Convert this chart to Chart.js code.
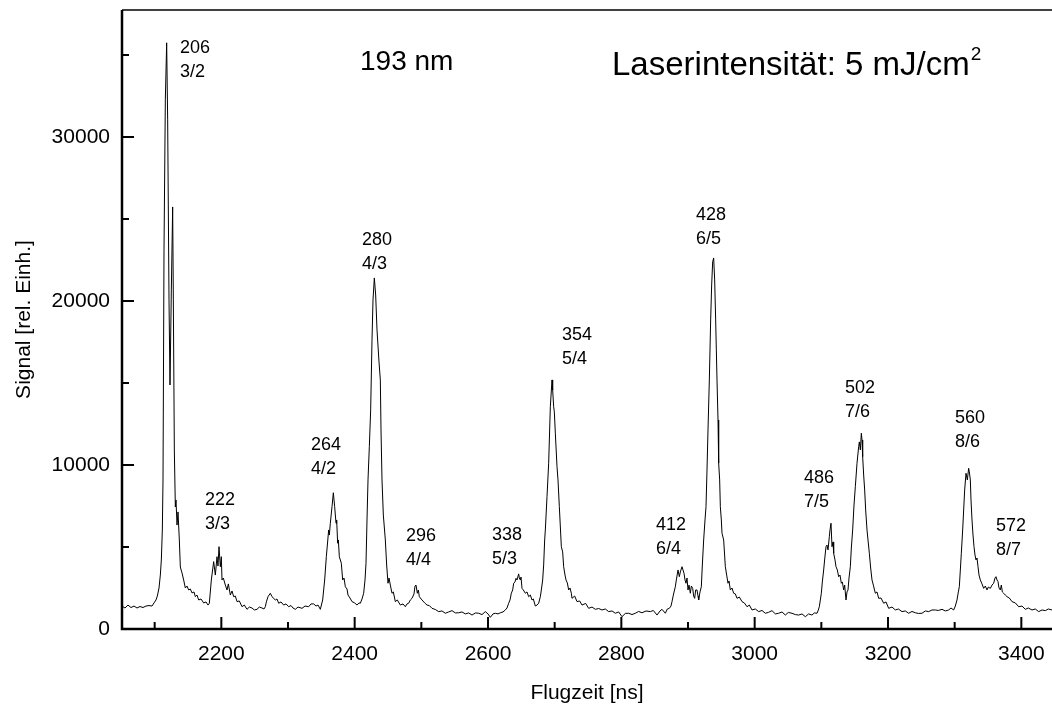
<!DOCTYPE html>
<html lang="de">
<head>
<meta charset="UTF-8">
<title>Flugzeitspektrum 193 nm</title>
<script src="https://cdn.jsdelivr.net/npm/chart.js"></script>
<style>
  html, body { margin: 0; padding: 0; background: #fff; }
</style>
</head>
<body>
<canvas id="tof" width="1052" height="709"></canvas>
<script>
// Flugzeit [ns] und Signal (je 10 Werte pro Zeile)
const flugzeit = [
  2051, 2055.5, 2060, 2064.5, 2069, 2073.5, 2078, 2082.5, 2087, 2091.5,
  2096, 2099, 2102, 2104, 2106.5, 2108.5, 2110, 2111.5, 2112.5, 2114,
  2116, 2118, 2119.5, 2121.5, 2123, 2125, 2127, 2128, 2129.5, 2131,
  2132, 2133.5, 2135, 2137, 2138.5, 2141, 2143.5, 2146, 2148.5, 2151,
  2153.5, 2156, 2159, 2161, 2163.5, 2166, 2169.5, 2173.5, 2177, 2180,
  2182, 2185, 2188.5, 2191, 2193.5, 2195, 2196.5, 2198.5, 2200, 2201,
  2203, 2206, 2208.5, 2210.5, 2213.5, 2216, 2218.5, 2221, 2223.5, 2227,
  2231, 2234.5, 2238.5, 2242, 2246, 2249.5, 2253.5, 2257, 2261, 2264,
  2266, 2267.5, 2270, 2273.5, 2276, 2281, 2283.5, 2286, 2289.5, 2293.5,
  2297, 2301, 2304.5, 2307.5, 2311, 2315, 2321, 2325.5, 2331, 2334.5,
  2338.5, 2342, 2345, 2348.5, 2352, 2355, 2357.5, 2361, 2362, 2363.5,
  2366, 2368, 2370, 2372, 2373, 2374.5, 2375.5, 2377, 2380, 2382,
  2384, 2386, 2388.5, 2390, 2393, 2396, 2400, 2403.5, 2406.5, 2408.5,
  2411, 2413.5, 2415.5, 2417, 2418.5, 2420, 2422, 2424, 2426, 2427.5,
  2429.5, 2431.5, 2433.5, 2436.5, 2438.5, 2439.5, 2441, 2443, 2446, 2448,
  2450, 2451.5, 2453.5, 2456, 2458, 2461, 2464, 2468.5, 2472.5, 2476,
  2478.5, 2481, 2483.5, 2486, 2489, 2490.5, 2492, 2494, 2495.5, 2497,
  2501, 2505, 2508.5, 2512, 2516, 2521, 2526, 2531, 2536, 2541,
  2546, 2551, 2556, 2561, 2566, 2571, 2576, 2581, 2586, 2591,
  2596, 2600, 2603.5, 2607.5, 2611, 2615, 2618.5, 2622.5, 2626, 2628.5,
  2631, 2633, 2635, 2637, 2638.5, 2640.5, 2642, 2643.5, 2646, 2647,
  2648.5, 2649.5, 2651, 2653, 2656, 2658.5, 2661, 2663.5, 2666, 2668,
  2671, 2673.5, 2676, 2678.5, 2680, 2682, 2683.5, 2685, 2686, 2688.5,
  2691, 2693.5, 2696, 2697, 2698.5, 2699.5, 2701, 2703.5, 2705, 2707,
  2710, 2712, 2713.5, 2715.5, 2717, 2719, 2721, 2723, 2725, 2726,
  2730, 2733.5, 2737.5, 2741, 2746.5, 2751, 2756, 2761, 2766, 2771,
  2776, 2781, 2786, 2791, 2796, 2801, 2806, 2811, 2816, 2821,
  2826, 2831, 2837, 2843.5, 2848, 2853.5, 2858, 2861, 2866, 2869,
  2872, 2874.5, 2876, 2878, 2881, 2882.5, 2885, 2887, 2888.5, 2891,
  2892.5, 2894, 2895.5, 2897, 2898.5, 2900, 2901.5, 2903.5, 2905, 2907,
  2908.5, 2910, 2911.5, 2913.5, 2915, 2916, 2918, 2920, 2921.5, 2923.5,
  2925.5, 2927, 2928.5, 2930, 2932, 2934, 2935.5, 2937, 2938.5, 2940,
  2941.5, 2942.5, 2943.5, 2945, 2946, 2947.5, 2948.5, 2950, 2951, 2953.5,
  2956, 2958, 2960, 2961.5, 2963.5, 2966, 2968.5, 2971, 2973.5, 2977,
  2981, 2984.5, 2988.5, 2992, 2996, 3001, 3006, 3011, 3016, 3020.5,
  3026, 3031, 3036, 3041, 3046, 3050.5, 3056, 3061, 3066, 3071,
  3076, 3081, 3086, 3089.5, 3093.5, 3095.5, 3097, 3098.5, 3100, 3101.5,
  3103.5, 3105.5, 3107, 3108.5, 3110, 3112, 3113, 3114.5, 3116, 3117.5,
  3118.5, 3120.5, 3122, 3124, 3126, 3128, 3130, 3131.5, 3133.5, 3135,
  3137, 3138.5, 3140, 3141.5, 3143.5, 3145, 3147, 3149, 3151, 3153.5,
  3156, 3157, 3158.5, 3160, 3161, 3162, 3163.5, 3165, 3166.5, 3168.5,
  3170, 3172, 3174, 3176, 3178, 3181, 3183.5, 3186, 3189.5, 3193.5,
  3197, 3201, 3206, 3211, 3215.5, 3221, 3226, 3231, 3236, 3241,
  3245.5, 3251, 3256, 3261, 3266, 3271, 3275.5, 3281, 3286, 3291,
  3294.5, 3298.5, 3301, 3303.5, 3305.5, 3307, 3308.5, 3310, 3312, 3313.5,
  3315, 3317, 3319, 3321, 3322, 3323.5, 3324.5, 3326, 3327.5, 3329,
  3330.5, 3332, 3333.5, 3335, 3336.5, 3338.5, 3341, 3343.5, 3346, 3348.5,
  3350.5, 3353.5, 3356, 3358.5, 3360.5, 3362, 3363.5, 3365, 3366.5, 3368.5,
  3370, 3371.5, 3373.5, 3376, 3378.5, 3382, 3386, 3391, 3396, 3401,
  3406, 3410.5, 3416, 3421, 3426, 3431, 3436, 3440.5, 3446
];
const signal = [
  1400, 1280, 1460, 1310, 1400, 1280, 1370, 1310, 1400, 1430,
  1400, 1590, 1770, 2010, 2500, 3290, 4210, 6040, 9090, 23120,
  32270, 35750, 31050, 20070, 14880, 20680, 25740, 20070, 10920, 7440,
  7870, 6340, 7140, 5430, 3780, 3420, 2990, 2500, 2620, 2380,
  2440, 2200, 2260, 1970, 2070, 1770, 1830, 1590, 1650, 1460,
  1570, 2990, 4110, 3290, 4410, 3840, 5020, 3800, 4410, 2990,
  3110, 2680, 2380, 2750, 2070, 2320, 1970, 2010, 1670, 1710,
  1360, 1460, 1200, 1340, 1280, 1160, 1200, 1340, 1280, 1220,
  1360, 1650, 1970, 2180, 1970, 1770, 1830, 1570, 1650, 1460,
  1530, 1360, 1430, 1280, 1200, 1340, 1260, 1400, 1360, 1530,
  1530, 1400, 1460, 1200, 1770, 2990, 4410, 6040, 5730, 6450,
  7460, 8310, 7460, 6450, 6650, 5230, 5430, 4410, 4010, 2990,
  3110, 2580, 2440, 2070, 1890, 1670, 1590, 1460, 1590, 1570,
  1830, 2180, 2990, 4010, 6650, 9090, 11120, 13360, 17630, 20070,
  21410, 20370, 18240, 16290, 15190, 12140, 9090, 6950, 5430, 3900,
  2790, 3110, 2680, 2180, 2260, 1670, 1770, 1460, 1530, 1360,
  1530, 1570, 1770, 1870, 2140, 2620, 2680, 2180, 2380, 1970,
  1770, 1590, 1460, 1430, 1260, 1190, 1060, 1100, 960, 1040,
  1120, 980, 990, 1040, 920, 980, 850, 980, 960, 880,
  1060, 920, 710, 920, 960, 920, 990, 1040, 1160, 1280,
  1570, 1770, 2180, 2380, 2790, 2870, 3090, 2990, 3360, 3110,
  2990, 3170, 2480, 2380, 2180, 2260, 1970, 2070, 1770, 1830,
  1400, 1460, 1570, 1970, 2380, 2990, 3900, 5430, 6040, 8070,
  10110, 13560, 15190, 14580, 13560, 13240, 11940, 9900, 9090, 7460,
  5020, 4700, 3800, 3290, 2990, 2810, 2380, 2500, 2180, 1870,
  2010, 1670, 1710, 1460, 1560, 1260, 1340, 1200, 1250, 1160,
  1220, 1060, 1100, 960, 1040, 750, 950, 960, 880, 960,
  1070, 990, 1100, 1060, 1130, 850, 1100, 1200, 960, 1220,
  1260, 1400, 1670, 2070, 2580, 2990, 3600, 3190, 3480, 3800,
  3600, 3400, 2990, 2790, 3110, 2380, 2680, 2180, 2620, 2480,
  2010, 1870, 2380, 2380, 2010, 1770, 2260, 2580, 3900, 5430,
  6650, 7460, 9700, 12140, 15190, 18850, 20980, 22390, 22630, 21290,
  18850, 17020, 15190, 12750, 10110, 9090, 7460, 6650, 5840, 5430,
  3800, 3290, 2790, 2930, 2380, 2500, 2180, 2140, 1870, 1950,
  1670, 1590, 1360, 1460, 1160, 1220, 1060, 1130, 960, 1010,
  1120, 920, 960, 1040, 850, 1010, 960, 880, 850, 920,
  750, 920, 850, 980, 960, 1160, 1360, 1770, 2180, 2870,
  3600, 4450, 5020, 5120, 4820, 5630, 6040, 6450, 5020, 5310,
  4620, 4210, 3800, 3600, 3190, 3290, 2790, 2870, 2380, 2680,
  1770, 2260, 2380, 3110, 3800, 4940, 6040, 7560, 8680, 10110,
  11120, 11410, 10920, 11940, 11530, 10510, 9390, 8480, 7260, 6040,
  5430, 4620, 3720, 2990, 2680, 2180, 2260, 1870, 1890, 1570,
  1650, 1260, 1340, 1160, 1220, 1060, 1100, 960, 1070, 990,
  950, 960, 1100, 1060, 1160, 1160, 1130, 1200, 1100, 1160,
  1280, 1160, 1400, 1770, 2260, 2580, 3600, 4620, 6040, 7260,
  8480, 9500, 9090, 9800, 9580, 9090, 7870, 6650, 5730, 5020,
  4510, 4210, 4330, 3800, 3290, 2990, 2750, 2480, 2620, 2380,
  2560, 2480, 2680, 2790, 3110, 3190, 2990, 2890, 2500, 2380,
  2680, 2260, 2180, 2070, 1970, 1890, 1670, 1590, 1360, 1400,
  1200, 1280, 1160, 1220, 1060, 1160, 1120, 1220, 1160
];

// Peak-Beschriftungen: Masse und Verhältnis
const peakMasses = ['206', '222', '264', '280', '296', '338', '354', '412', '428', '486', '502', '560', '572'];
const peakRatios = ['3/2', '3/3', '4/2', '4/3', '4/4', '5/3', '5/4', '6/4', '6/5', '7/5', '7/6', '8/6', '8/7'];
// wo die Beschriftung steht (Flugzeit, Signal)
const peakLabelX = [2138, 2175.5, 2334.5, 2411, 2477, 2606, 2711, 2852, 2912, 3074, 3135.5, 3300.5, 3362];
const peakLabelY = [35440, 7870, 11220, 23730, 5670, 5730, 17930, 6340, 25250, 9210, 14700, 12870, 6280];

const xMajor = [2200, 2400, 2600, 2800, 3000, 3200, 3400];
const xMinor = [2100, 2300, 2500, 2700, 2900, 3100, 3300];
const yMajor = [0, 10000, 20000, 30000];
const yMinor = [5000, 15000, 25000, 35000];

const FONT = "'Liberation Sans', Arial, sans-serif";

const noEdgePadding = s => {
  s.paddingLeft = 0; s.paddingRight = 0; s.paddingTop = 0; s.paddingBottom = 0;
};

const frameAndText = {
  id: 'frameAndText',
  afterDraw(chart) {
    const { ctx, chartArea: a, scales: { x, y } } = chart;
    ctx.save();
    ctx.strokeStyle = '#000';
    // Rahmen (rechts abgeschnitten)
    ctx.lineWidth = 1.5;
    ctx.beginPath();
    ctx.moveTo(a.left, a.top);
    ctx.lineTo(a.right, a.top);
    ctx.stroke();
    ctx.lineWidth = 2.5;
    ctx.beginPath();
    ctx.moveTo(a.left, a.top);
    ctx.lineTo(a.left, a.bottom);
    ctx.lineTo(a.right, a.bottom);
    ctx.stroke();

    // Ticks nach innen
    ctx.lineWidth = 2;
    ctx.beginPath();
    xMajor.forEach(v => { const p = x.getPixelForValue(v); ctx.moveTo(p, a.bottom); ctx.lineTo(p, a.bottom - 12); });
    xMinor.forEach(v => { const p = x.getPixelForValue(v); ctx.moveTo(p, a.bottom); ctx.lineTo(p, a.bottom - 7); });
    yMajor.forEach(v => { const p = y.getPixelForValue(v); ctx.moveTo(a.left, p); ctx.lineTo(a.left + 12, p); });
    yMinor.forEach(v => { const p = y.getPixelForValue(v); ctx.moveTo(a.left, p); ctx.lineTo(a.left + 7, p); });
    ctx.stroke();

    // Beschriftungen
    ctx.fillStyle = '#000';
    ctx.textBaseline = 'middle';
    ctx.textAlign = 'left';
    ctx.font = '18px ' + FONT;
    peakMasses.forEach((m, i) => {
      const px = x.getPixelForValue(peakLabelX[i]);
      const py = y.getPixelForValue(peakLabelY[i]);
      ctx.fillText(m, px, py);
      ctx.fillText(peakRatios[i], px, py + 24);
    });

    ctx.font = '28px ' + FONT;
    ctx.fillText('193 nm', x.getPixelForValue(2408), y.getPixelForValue(34590));
    const lx = x.getPixelForValue(2786), ly = y.getPixelForValue(34340);
    const main = 'Laserintensität: 5 mJ/cm';
    ctx.font = '33px ' + FONT;
    ctx.fillText(main, lx, ly);
    const w = ctx.measureText(main).width;
    ctx.font = '19px ' + FONT;
    ctx.fillText('2', lx + w + 1, ly - 11);
    ctx.restore();
  }
};

new Chart(document.getElementById('tof'), {
  type: 'line',
  data: {
    datasets: [{
      data: flugzeit.map((t, i) => ({ x: t, y: signal[i] })),
      borderColor: '#000',
      borderWidth: 1,
      pointRadius: 0,
      tension: 0,
      fill: false
    }]
  },
  options: {
    responsive: false,
    animation: false,
    layout: { padding: { top: 10, right: 0, left: 0, bottom: 0 } },
    plugins: { legend: { display: false }, tooltip: { enabled: false } },
    scales: {
      x: {
        type: 'linear',
        min: 2051,
        max: 3446,
        grid: { display: false, drawTicks: false },
        border: { display: false },
        afterBuildTicks: s => { s.ticks = xMajor.map(v => ({ value: v })); },
        afterFit: s => { s.height = 80; noEdgePadding(s); },
        ticks: { color: '#000', padding: 13, maxRotation: 0, font: { family: FONT, size: 21 }, callback: v => String(v) },
        title: { display: true, text: 'Flugzeit [ns]', color: '#000', font: { family: FONT, size: 21 }, padding: { top: 0, bottom: 3 } }
      },
      y: {
        min: 0,
        max: 37750,
        grid: { display: false, drawTicks: false },
        border: { display: false },
        afterBuildTicks: s => { s.ticks = yMajor.map(v => ({ value: v })); },
        afterFit: s => { s.width = 122; noEdgePadding(s); },
        ticks: { color: '#000', padding: 12, font: { family: FONT, size: 21 }, callback: v => String(v) },
        title: { display: true, text: 'Signal [rel. Einh.]', color: '#000', font: { family: FONT, size: 21 }, padding: { top: 12, bottom: 0 } }
      }
    }
  },
  plugins: [frameAndText]
});
</script>
</body>
</html>
